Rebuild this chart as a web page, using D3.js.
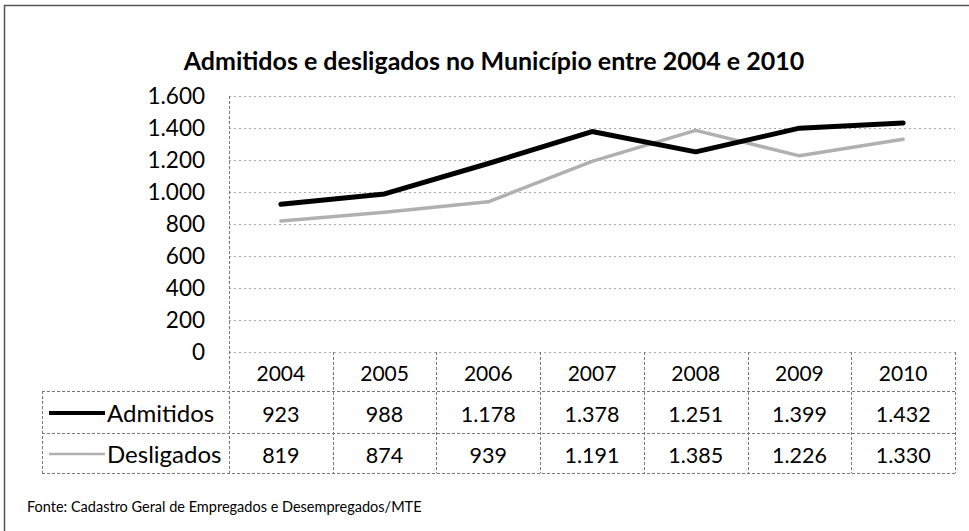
<!DOCTYPE html>
<html lang="pt">
<head>
<meta charset="utf-8">
<script src="https://d3js.org/d3.v7.min.js"></script>
<style>
  body { margin: 0; background: #fff; }
  svg { font-family: Lato, "Noto Sans", sans-serif; }
</style>
</head>
<body>
<script>
// data
var years = [2004, 2005, 2006, 2007, 2008, 2009, 2010];
var admitidos = [923, 988, 1178, 1378, 1251, 1399, 1432];
var desligados = [819, 874, 939, 1191, 1385, 1226, 1330];
var yTicks = [0, 200, 400, 600, 800, 1000, 1200, 1400, 1600];
var seriesNames = ["Admitidos", "Desligados"];
var title = "Admitidos e desligados no Município entre 2004 e 2010";
var source = "Fonte: Cadastro Geral de Empregados e Desempregados/MTE";

var width = 969, height = 531;
var plotLeft = 229, plotRight = 955, plotTop = 96, plotBottom = 352;
var tableLeft = 42;
var rowEdges = [352, 391, 433, 473];

var ptBR = d3.formatLocale({decimal: ",", thousands: ".", grouping: [3], currency: ["R$", ""]});
var fmt = ptBR.format(",d");

var x = d3.scaleBand().domain(years).range([plotLeft, plotRight]);
var y = d3.scaleLinear().domain([0, 1600]).range([plotBottom, plotTop]);

var svg = d3.select("body").append("svg")
  .attr("width", width)
  .attr("height", height);

// outer frame
svg.append("path")
  .attr("d", "M4.5," + height + "V5.5H" + width)
  .attr("fill", "none")
  .attr("stroke", "#555")
  .attr("stroke-width", 1.5);

// title
svg.append("text")
  .attr("x", 494)
  .attr("y", 70)
  .attr("text-anchor", "middle")
  .attr("font-size", 25)
  .attr("font-weight", "bold")
  .text(title);

// gridlines
svg.append("g").selectAll("line")
  .data(yTicks)
  .enter().append("line")
  .attr("x1", plotLeft).attr("x2", plotRight)
  .attr("y1", function(d) { return Math.round(y(d)) + 0.5; })
  .attr("y2", function(d) { return Math.round(y(d)) + 0.5; })
  .attr("stroke", "#a8a8a8")
  .attr("stroke-dasharray", "2,3");

// y tick labels
svg.append("g").selectAll("text")
  .data(yTicks)
  .enter().append("text")
  .attr("x", 205)
  .attr("y", function(d) { return y(d); })
  .attr("dy", "0.36em")
  .attr("text-anchor", "end")
  .attr("font-size", 22.5)
  .text(function(d) { return fmt(d); });

// table lines
var grid = svg.append("g")
  .attr("stroke", "#777")
  .attr("stroke-dasharray", "3,2")
  .attr("fill", "none");

// left axis line runs through the table
grid.append("line")
  .attr("x1", plotLeft + 0.5).attr("x2", plotLeft + 0.5)
  .attr("y1", plotTop).attr("y2", rowEdges[3]);

// column separators in the table
grid.selectAll(".col")
  .data(years)
  .enter().append("line")
  .attr("class", "col")
  .attr("x1", function(d) { return Math.round(x(d) + x.bandwidth()) + 0.5; })
  .attr("x2", function(d) { return Math.round(x(d) + x.bandwidth()) + 0.5; })
  .attr("y1", rowEdges[0]).attr("y2", rowEdges[3]);

// row separators
grid.selectAll(".row")
  .data(rowEdges.slice(1))
  .enter().append("line")
  .attr("class", "row")
  .attr("x1", tableLeft).attr("x2", plotRight)
  .attr("y1", function(d) { return d + 0.5; })
  .attr("y2", function(d) { return d + 0.5; });

grid.append("line")
  .attr("x1", tableLeft + 0.5).attr("x2", tableLeft + 0.5)
  .attr("y1", rowEdges[1]).attr("y2", rowEdges[3]);

// year headers
svg.append("g").selectAll("text")
  .data(years)
  .enter().append("text")
  .attr("x", function(d) { return x(d) + x.bandwidth() / 2; })
  .attr("y", (rowEdges[0] + rowEdges[1]) / 2 + 2)
  .attr("dy", "0.35em")
  .attr("text-anchor", "middle")
  .attr("font-size", 21)
  .text(function(d) { return d; });

var series = [
  {name: seriesNames[0], values: admitidos, color: "#000", width: 5},
  {name: seriesNames[1], values: desligados, color: "#b0b0b0", width: 3.5}
];

var line = d3.line()
  .x(function(d, i) { return x(years[i]) + x.bandwidth() / 2; })
  .y(function(d) { return y(d); });

series.forEach(function(s, k) {
  var rowMid = (rowEdges[k + 1] + rowEdges[k + 2]) / 2;

  // legend sample and name
  svg.append("line")
    .attr("x1", 49).attr("x2", 105)
    .attr("y1", rowMid + 1).attr("y2", rowMid + 1)
    .attr("stroke", s.color)
    .attr("stroke-width", k === 0 ? 4 : 2.5);

  svg.append("text")
    .attr("x", 107)
    .attr("y", rowMid + 2)
    .attr("dy", "0.35em")
    .attr("font-size", 24)
    .text(s.name);

  // values
  svg.append("g").selectAll("text")
    .data(s.values)
    .enter().append("text")
    .attr("x", function(d, i) { return x(years[i]) + x.bandwidth() / 2; })
    .attr("y", rowMid + 2)
    .attr("dy", "0.35em")
    .attr("text-anchor", "middle")
    .attr("font-size", 21.5)
    .text(function(d) { return fmt(d); });
});

// series lines, desligados drawn first
series.slice().reverse().forEach(function(s) {
  svg.append("path")
    .datum(s.values)
    .attr("d", line)
    .attr("fill", "none")
    .attr("stroke", s.color)
    .attr("stroke-width", s.width)
    .attr("stroke-linejoin", "round")
    .attr("stroke-linecap", "round");
});

// source note
svg.append("text")
  .attr("x", 27)
  .attr("y", 512)
  .attr("font-size", 14.5)
  .text(source);
</script>
</body>
</html>
